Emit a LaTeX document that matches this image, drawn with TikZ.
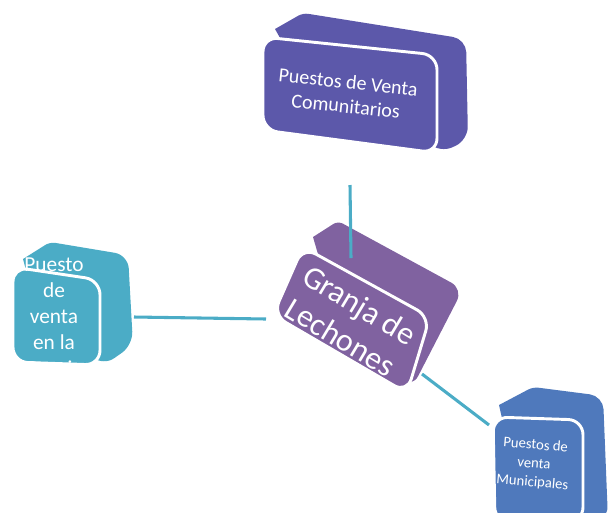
\documentclass[tikz,border=0pt]{standalone}
\usepackage{fontspec}
\setmainfont{Carlito}
\definecolor{topc}{RGB}{92,88,170}
\definecolor{midc}{RGB}{128,98,160}
\definecolor{leftc}{RGB}{75,172,198}
\definecolor{brc}{RGB}{79,121,188}
\definecolor{linec}{RGB}{75,172,198}
\tikzset{
  backface/.style={fill=#1},
  frontface/.style={fill=#1, draw=white, line width=2.2pt, rounded corners=11pt},
  conn/.style={draw=linec, line width=2.3pt},
  lbl/.style={text=white, align=center, inner sep=0pt}
}
\begin{document}
\begin{tikzpicture}[x=0.75pt,y=-0.75pt]
\useasboundingbox (0,0) rectangle (610,512);
% top box
\fill[backface=topc] (275,29) [rounded corners=4pt] -- (303,13) [rounded corners=10pt] -- (466,39) -- (468,140) -- (440,153) [sharp corners] -- (425,140) -- (288,52) -- cycle;
\path[frontface=topc] (263,37) -- (437,55) -- (437,153) -- (263,130) -- cycle;
% left box
\fill[backface=leftc] (23,259) [rounded corners=4pt] -- (50,242) [rounded corners=10pt] -- (128,255) -- (133,345) -- (103,366) [sharp corners] -- (90,355) -- (30,285) -- cycle;
\path[frontface=leftc] (13,267) -- (100,280) -- (100,365) -- (13,362) -- cycle;
% bottom right box
\fill[backface=brc] (499,405) [rounded corners=4pt] -- (533,387) [rounded corners=10pt] -- (603,396) -- (608,520) [sharp corners] -- (575,520) -- (508,445) -- cycle;
\path[frontface=brc] (493,417) -- (583,420) -- (583,522) -- (495,522) -- cycle;
% centre box back
\fill[backface=midc] (313,237) [rounded corners=4pt] -- (338,221) [rounded corners=10pt] -- (463,289) -- (412,388) [sharp corners] -- (400,380) -- (322,268) -- cycle;
% connectors
\coordinate (t1) at (350,185);
\coordinate (t2) at (351,258);
\coordinate (l1) at (134,317);
\coordinate (l2) at (266,319);
\coordinate (b1) at (422,374);
\coordinate (b2) at (489,425);
\draw[conn] (t1) -- (t2);
\draw[conn] (l1) -- (l2);
\draw[conn] (b1) -- (b2);
% centre box front
\path[frontface=midc] (303,247) -- (430,317) -- (407,393) -- (273,315) -- cycle;
% labels
\node[lbl, rotate=-6, font=\fontsize{15}{18}\selectfont] (ntop) at (347,94) {Puestos de Venta\\Comunitarios};
\node[lbl, rotate=-31, font=\fontsize{24}{28}\selectfont] (nmid) at (350,321) {Granja de\\Lechones};
\node[lbl, font=\fontsize{16}{19.5}\selectfont] (nleft) at (54,318) {Puesto\\de\\venta\\en la\\Granja};
\node[lbl, rotate=-5, font=\fontsize{11}{14}\selectfont] (nbr) at (534,464) {Puestos de\\venta\\Municipales};
\end{tikzpicture}
\end{document}
